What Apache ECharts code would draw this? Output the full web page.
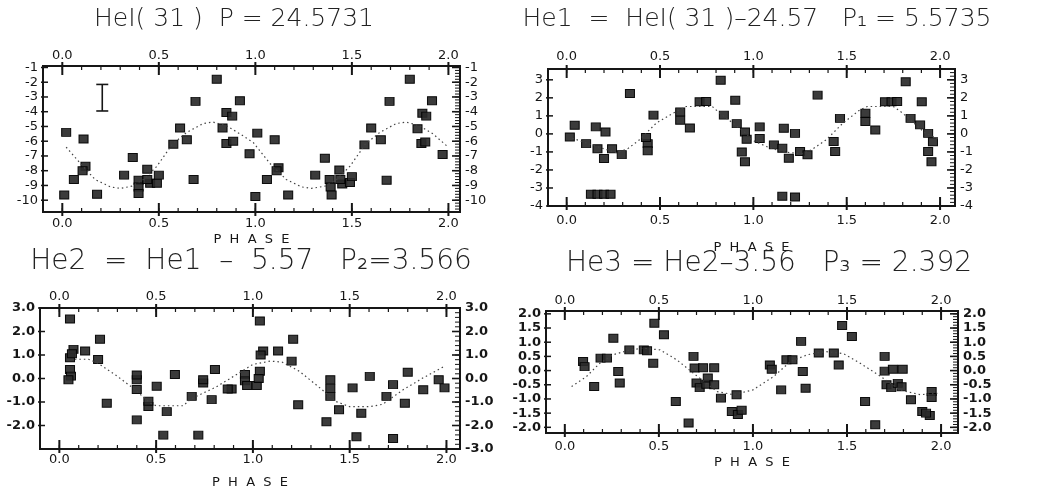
<!DOCTYPE html>
<html>
<head>
<meta charset="utf-8">
<title>HeI phase diagrams</title>
<script src="https://cdn.jsdelivr.net/npm/echarts@6/dist/echarts.min.js"></script>
<style>
html, body { margin: 0; padding: 0; background: #fff; }
#chart { width: 1040px; height: 491px; }
</style>
</head>
<body>
<div id="chart"></div>
<script>
// phase ticks, same on every panel
var PHASE_TICKS = [0, 0.5, 1.0, 1.5, 2.0];

// --- HeI(31), P = 24.5731 ---
var he0Points = [
    [0.02, -5.4], [0.01, -9.65], [0.11, -5.85], [0.06, -8.6], [0.12, -7.7], [0.105, -8.0],
    [0.18, -9.6], [0.32, -8.3], [0.365, -7.1], [0.395, -8.65], [0.395, -9.1], [0.395, -9.55],
    [0.44, -7.9], [0.455, -8.85], [0.49, -8.85], [0.5, -8.3], [0.44, -8.6], [0.575, -6.2],
    [0.61, -5.1], [0.645, -5.9], [0.68, -8.6], [0.69, -3.3], [0.8, -1.8], [0.85, -4.05],
    [0.88, -4.3], [0.83, -5.1], [0.92, -3.25], [0.85, -6.15], [0.885, -6.0], [0.97, -6.85],
    [1.01, -5.45], [1.0, -9.75], [1.1, -5.9], [1.06, -8.6], [1.12, -7.8], [1.11, -8.0],
    [1.17, -9.65], [1.31, -8.3], [1.36, -7.15], [1.385, -8.6], [1.39, -9.1], [1.395, -9.65],
    [1.435, -7.95], [1.45, -8.9], [1.49, -8.8], [1.5, -8.4], [1.44, -8.6], [1.565, -6.25],
    [1.6, -5.1], [1.65, -5.9], [1.68, -8.65], [1.695, -3.3], [1.8, -1.8], [1.865, -4.1],
    [1.885, -4.3], [1.84, -5.15], [1.915, -3.25], [1.86, -6.15], [1.88, -6.05], [1.97, -6.9]
];
var he0Fit = [
    [0.02, -6.4], [0.1, -7.6], [0.17, -8.6], [0.25, -9.1], [0.3, -9.2], [0.36, -9.05],
    [0.42, -8.6], [0.49, -7.7], [0.57, -6.2], [0.645, -5.4], [0.73, -4.8], [0.78, -4.7],
    [0.85, -4.95], [0.92, -5.5], [0.99, -6.1], [1.075, -7.5], [1.16, -8.6], [1.24, -9.1],
    [1.29, -9.2], [1.36, -9.05], [1.42, -8.6], [1.49, -7.7], [1.57, -6.2], [1.645, -5.4],
    [1.73, -4.8], [1.78, -4.7], [1.85, -4.95], [1.92, -5.5], [1.99, -6.3]
];
var he0ErrorBar = [[0.207, -2.15, -3.95]];
var he0Ticks = [-1, -2, -3, -4, -5, -6, -7, -8, -9, -10];

// --- He1 = HeI(31) - 24.57, P1 = 5.5735 ---
var he1Points = [
    [0.043, 0.48], [0.017, -0.17], [0.104, -0.54], [0.156, 0.39], [0.165, -0.82], [0.2, -1.37],
    [0.208, 0.11], [0.243, -0.82], [0.295, -1.15], [0.339, 2.24], [0.13, -3.35], [0.165, -3.35],
    [0.2, -3.35], [0.235, -3.35], [0.434, -0.54], [0.434, -0.93], [0.425, -0.2], [0.465, 1.04],
    [0.608, 1.22], [0.608, 0.76], [0.66, 0.33], [0.712, 1.78], [0.747, 1.8], [0.825, 2.98],
    [0.842, 1.04], [0.903, 1.87], [0.911, 0.57], [0.955, 0.11], [0.964, -0.3], [0.938, -1.0],
    [0.955, -1.55],
    [1.034, 0.39], [1.034, -0.26], [1.11, -0.61], [1.163, 0.31], [1.223, 0.03], [1.155, -0.8],
    [1.19, -1.35], [1.25, -0.98], [1.29, -1.16], [1.344, 2.15], [1.155, -3.46], [1.223, -3.5],
    [1.43, -0.42], [1.438, -0.98], [1.464, 0.86], [1.6, 1.14], [1.6, 0.69], [1.653, 0.22],
    [1.705, 1.78], [1.74, 1.78], [1.77, 1.8], [1.816, 2.89], [1.842, 0.86], [1.902, 1.78],
    [1.893, 0.5], [1.936, 0.03], [1.962, -0.44], [1.936, -0.98], [1.954, -1.54]
];
var he1Fit = [
    [0.03, -0.24], [0.16, -0.7], [0.27, -1.05], [0.33, -0.8], [0.39, -0.33], [0.48, 0.6],
    [0.57, 1.15], [0.64, 1.52], [0.78, 1.52], [0.82, 1.15], [0.89, 0.6], [0.96, 0.04],
    [0.99, -0.33], [1.07, -0.7], [1.16, -1.0], [1.26, -1.1], [1.31, -0.89], [1.39, -0.33],
    [1.48, 0.6], [1.57, 1.33], [1.61, 1.52], [1.75, 1.52], [1.8, 1.15], [1.92, 0.05], [2.0, -0.33]
];
var he1Ticks = [3, 2, 1, 0, -1, -2, -3, -4];

// --- He2 = He1 - 5.57, P2 = 3.566 ---
var he2Points = [
    [0.055, 2.53], [0.055, 0.88], [0.073, 1.24], [0.065, 1.05], [0.055, 0.38], [0.06, 0.1],
    [0.047, -0.05], [0.133, 1.17], [0.21, 1.67], [0.2, 0.81], [0.245, -1.05], [0.4, -0.05],
    [0.4, 0.15], [0.4, -0.47], [0.4, -1.76], [0.46, -1.19], [0.46, -0.97], [0.503, -0.33],
    [0.555, -1.41], [0.597, 0.17], [0.537, -2.41], [0.718, -2.41], [0.684, -0.76], [0.743, -0.19],
    [0.743, -0.05], [0.787, -0.9], [0.804, 0.38], [0.89, -0.45], [0.87, -0.45], [0.959, 0.17],
    [0.959, -0.1], [0.97, -0.3],
    [1.036, 2.45], [1.053, 1.17], [1.04, 1.0], [1.13, 1.17], [1.036, 0.31], [1.02, -0.3],
    [1.03, 0.0], [1.208, 1.67], [1.2, 0.74], [1.234, -1.12], [1.4, -0.05], [1.4, -0.42],
    [1.4, -0.76], [1.38, -1.84], [1.445, -1.33], [1.515, -0.4], [1.56, -1.48], [1.604, 0.09],
    [1.535, -2.48], [1.724, -2.55], [1.69, -0.76], [1.724, -0.26], [1.785, -1.05], [1.8, 0.27],
    [1.88, -0.48], [1.96, -0.05], [1.99, -0.4]
];
var he2Fit = [
    [0.08, 0.82], [0.15, 0.82], [0.2, 0.65], [0.29, 0.15], [0.38, -0.4], [0.47, -1.05],
    [0.5, -1.16], [0.64, -1.16], [0.675, -0.9], [0.743, -0.62], [0.81, -0.36], [0.9, 0.09],
    [1.0, 0.6], [1.09, 0.74], [1.15, 0.7], [1.24, 0.31], [1.346, -0.4], [1.43, -0.98],
    [1.5, -1.2], [1.6, -1.2], [1.67, -1.1], [1.776, -0.48], [1.88, 0.03], [1.99, 0.52]
];
var he2TicksLeft = [3, 2, 1, 0, -1, -2];
var he2TicksRight = [3, 2, 1, 0, -1, -2, -3];

// --- He3 = He2 - 3.56, P3 = 2.392 ---
var he3Points = [
    [0.097, 0.32], [0.105, 0.14], [0.156, -0.56], [0.19, 0.44], [0.224, 0.44], [0.258, 1.14],
    [0.284, -0.03], [0.292, -0.44], [0.343, 0.73], [0.42, 0.73], [0.437, 0.7], [0.47, 0.26],
    [0.476, 1.67], [0.527, 1.26], [0.59, -1.09], [0.658, -1.85], [0.684, 0.5], [0.69, 0.09],
    [0.735, 0.1], [0.794, 0.1], [0.7, -0.44], [0.717, -0.6], [0.752, -0.48], [0.76, -0.26],
    [0.794, -0.5], [0.83, -0.97], [0.888, -1.44], [0.913, -0.85], [0.92, -1.55], [0.94, -1.4],
    [1.09, 0.2], [1.1, 0.05], [1.15, -0.68], [1.178, 0.38], [1.21, 0.38], [1.256, 1.03],
    [1.265, -0.03], [1.28, -0.62], [1.35, 0.62], [1.43, 0.62], [1.456, 0.2], [1.474, 1.59],
    [1.526, 1.2], [1.596, -1.09], [1.65, -1.91], [1.7, 0.5], [1.7, -0.02], [1.744, 0.05],
    [1.796, 0.05], [1.71, -0.5], [1.735, -0.6], [1.77, -0.45], [1.79, -0.57], [1.84, -1.03],
    [1.95, -0.74], [1.95, -0.95], [1.9, -1.44], [1.94, -1.58], [1.92, -1.5]
];
var he3Fit = [
    [0.036, -0.56], [0.115, -0.21], [0.186, 0.26], [0.257, 0.56], [0.346, 0.73], [0.417, 0.79],
    [0.506, 0.73], [0.595, 0.38], [0.683, -0.09], [0.81, -0.74], [0.896, -0.85], [1.0, -0.68],
    [1.11, -0.21], [1.2, 0.32], [1.29, 0.56], [1.385, 0.67], [1.48, 0.6], [1.57, 0.26],
    [1.68, -0.21], [1.78, -0.68], [1.89, -0.85], [1.98, -0.8]
];
var he3Ticks = [2, 1.5, 1, 0.5, 0, -0.5, -1, -1.5, -2];

var INK = '#161616';
var FONT = "'DejaVu Sans', sans-serif";

var panels = [
    {
        title: 'HeI( 31 )  P = 24.5731', titleX: 234, titleY: 7, titleSize: 25,
        rect: {left: 43, top: 66, width: 417, height: 146},
        xMin: -0.1, xMax: 2.06, yMin: -10.8, yMax: -0.9, yMinor: 0.2,
        ticksLeft: he0Ticks, ticksRight: he0Ticks, fmt: function (v) { return String(v); },
        points: he0Points, fit: he0Fit, errorBar: he0ErrorBar,
        topMargin: 4, bottomMargin: 5, nameGap: 21, boldY: false
    },
    {
        title: 'He1  =  HeI( 31 )\u201324.57   P\u2081 = 5.5735', titleX: 757, titleY: 7, titleSize: 25,
        rect: {left: 548, top: 69, width: 407, height: 137},
        xMin: -0.1, xMax: 2.08, yMin: -4, yMax: 3.6, yMinor: 0.2,
        ticksLeft: he1Ticks, ticksRight: he1Ticks, fmt: function (v) { return String(v); },
        points: he1Points, fit: he1Fit,
        topMargin: 6, bottomMargin: 8, nameGap: 35, boldY: false
    },
    {
        title: 'He2  =  He1  \u2013  5.57   P\u2082=3.566', titleX: 251, titleY: 248, titleSize: 28,
        rect: {left: 40, top: 308, width: 420, height: 141},
        xMin: -0.1, xMax: 2.07, yMin: -3, yMax: 3, yMinor: 0.2,
        ticksLeft: he2TicksLeft, ticksRight: he2TicksRight, fmt: function (v) { return v.toFixed(1); },
        points: he2Points, fit: he2Fit,
        topMargin: 5, bottomMargin: 4, nameGap: 27, boldY: true
    },
    {
        title: 'He3 = He2\u20133.56   P\u2083 = 2.392', titleX: 769, titleY: 250, titleSize: 28,
        rect: {left: 546, top: 311, width: 412, height: 122},
        xMin: -0.1, xMax: 2.09, yMin: -2.2, yMax: 2.1, yMinor: 0.1,
        ticksLeft: he3Ticks, ticksRight: he3Ticks, fmt: function (v) { return v.toFixed(1); },
        points: he3Points, fit: he3Fit,
        topMargin: 4, bottomMargin: 7, nameGap: 23, boldY: true
    }
];

var option = {
    backgroundColor: '#fff',
    animation: false,
    title: [], grid: [], xAxis: [], yAxis: [], series: []
};

function phaseLabel(v) { return v.toFixed(1); }
function labelStyle(extra) {
    return Object.assign({color: INK, fontFamily: FONT, fontSize: 13}, extra);
}
// graduation values between lo and hi (axis decoration, not data)
function graduations(lo, hi, step) {
    var out = [], n = Math.ceil(lo / step - 1e-9);
    for (var v = n * step; v <= hi + 1e-9; v = (++n) * step) out.push(+v.toFixed(4));
    return out;
}

// each item: [x, y, kind, xOther, yOther] - a tick runs from its own edge point
// kinds: 0 major phase, 1 minor phase, 2 left major, 3 right minor, 4 right major
function tickItems(p) {
    var items = [];
    PHASE_TICKS.forEach(function (v) { items.push([v, p.yMin, 0, v, p.yMax]); });
    graduations(p.xMin, p.xMax, 0.1).forEach(function (v) { items.push([v, p.yMin, 1, v, p.yMax]); });
    p.ticksLeft.forEach(function (v) { items.push([p.xMin, v, 2, p.xMax, v]); });
    graduations(p.yMin, p.yMax, p.yMinor).forEach(function (v) { items.push([p.xMin, v, 3, p.xMax, v]); });
    p.ticksRight.forEach(function (v) { items.push([p.xMin, v, 4, p.xMax, v]); });
    return items;
}

function renderTick(params, api) {
    var kind = api.value(2);
    var a = api.coord([api.value(0), api.value(1)]);
    var b = api.coord([api.value(3), api.value(4)]);
    var lines = [];
    var st = function (w) { return {stroke: INK, lineWidth: w}; };
    if (kind === 0 || kind === 1) {
        var len = kind === 0 ? 9 : 4, out = kind === 0 ? 4 : 0, w = kind === 0 ? 2 : 1.2;
        lines.push({type: 'line', shape: {x1: a[0], y1: a[1] + out, x2: a[0], y2: a[1] - len}, style: st(w)});
        lines.push({type: 'line', shape: {x1: b[0], y1: b[1] - out, x2: b[0], y2: b[1] + len}, style: st(w)});
    } else if (kind === 2) {
        lines.push({type: 'line', shape: {x1: a[0] - 2, y1: a[1], x2: a[0] + 5, y2: a[1]}, style: st(1.5)});
    } else {
        var l = kind === 3 ? 5 : 8;
        lines.push({type: 'line', shape: {x1: b[0], y1: b[1], x2: b[0] - l, y2: b[1]}, style: st(kind === 3 ? 1 : 1.6)});
    }
    return {type: 'group', children: lines};
}

panels.forEach(function (p, i) {
    var r = p.rect;

    option.title.push({
        text: p.title, left: p.titleX, top: p.titleY, textAlign: 'center', padding: 0,
        textStyle: {fontFamily: FONT, fontSize: p.titleSize, fontWeight: 200, color: '#222'}
    });

    option.grid.push({
        left: r.left, top: r.top, width: r.width, height: r.height,
        show: true, borderColor: INK, borderWidth: 2, backgroundColor: 'transparent',
        containLabel: false, outerBoundsMode: 'none'
    });

    ['bottom', 'top'].forEach(function (pos) {
        option.xAxis.push({
            type: 'value', gridIndex: i, position: pos, min: p.xMin, max: p.xMax,
            axisLine: {show: false, onZero: false}, axisTick: {show: false},
            axisLabel: labelStyle({customValues: PHASE_TICKS, formatter: phaseLabel,
                margin: pos === 'top' ? p.topMargin : p.bottomMargin}),
            splitLine: {show: false},
            name: pos === 'bottom' ? 'P  H  A  S  E' : '',
            nameLocation: 'middle', nameGap: p.nameGap,
            nameTextStyle: {color: INK, fontFamily: FONT, fontSize: 13}
        });
    });
    [['left', p.ticksLeft], ['right', p.ticksRight]].forEach(function (s) {
        option.yAxis.push({
            type: 'value', gridIndex: i, position: s[0], min: p.yMin, max: p.yMax,
            axisLine: {show: false, onZero: false}, axisTick: {show: false},
            axisLabel: labelStyle({customValues: s[1], formatter: p.fmt, margin: 5,
                fontWeight: p.boldY ? 'bold' : 'normal'}),
            splitLine: {show: false}
        });
    });

    var xi = 2 * i, yi = 2 * i;
    option.series.push({
        type: 'line', xAxisIndex: xi, yAxisIndex: yi, data: p.fit,
        symbol: 'none', smooth: false,
        lineStyle: {color: '#444', width: 1.2, type: [1.5, 3]}
    });
    option.series.push({
        type: 'scatter', xAxisIndex: xi, yAxisIndex: yi, data: p.points,
        symbol: 'rect', symbolSize: [9, 8],
        itemStyle: {color: '#2a2a2a', borderColor: '#000', borderWidth: 1, opacity: 0.92}
    });
    // frame graduations, placed through the panel's own axes
    option.series.push({
        type: 'custom', xAxisIndex: xi, yAxisIndex: yi, data: tickItems(p),
        dimensions: ['x', 'y', 'kind', 'x2', 'y2'],
        encode: {x: [0, 3], y: [1, 4]},
        renderItem: renderTick
    });
    if (p.errorBar) {
        option.series.push({
            type: 'custom', xAxisIndex: xi, yAxisIndex: yi, data: p.errorBar,
            encode: {x: 0, y: [1, 2]},
            renderItem: function (params, api) {
                var a = api.coord([api.value(0), api.value(1)]);
                var b = api.coord([api.value(0), api.value(2)]);
                var w = 6, st = {stroke: INK, lineWidth: 1.6};
                return {type: 'group', children: [
                    {type: 'line', shape: {x1: a[0], y1: a[1], x2: b[0], y2: b[1]}, style: st},
                    {type: 'line', shape: {x1: a[0] - w, y1: a[1], x2: a[0] + w, y2: a[1]}, style: st},
                    {type: 'line', shape: {x1: b[0] - w, y1: b[1], x2: b[0] + w, y2: b[1]}, style: st}
                ]};
            }
        });
    }
});

var chart = echarts.init(document.getElementById('chart'));
chart.setOption(option);
</script>
</body>
</html>
